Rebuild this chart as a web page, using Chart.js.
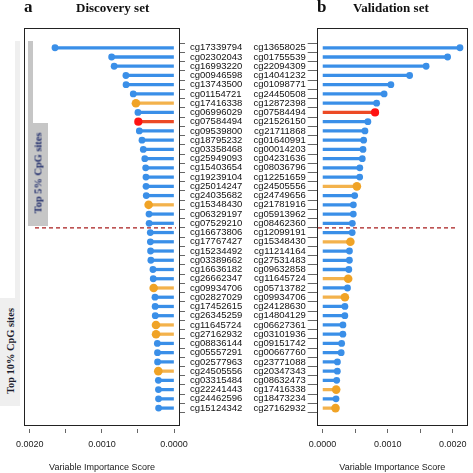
<!DOCTYPE html>
<html>
<head>
<meta charset="utf-8">
<script src="https://cdn.jsdelivr.net/npm/chart.js@4.4.1/dist/chart.umd.min.js"></script>
<style>
  body { margin:0; width:473px; height:473px; background:#fff; position:relative; overflow:hidden; }
  canvas { position:absolute; top:0; }
  .lbl { position:absolute; font-family:"Liberation Serif", serif; font-weight:bold; color:#111; white-space:nowrap; }
  .band { position:absolute; }
  .vtxt { position:absolute; font-family:"Liberation Serif", serif; font-weight:bold; font-size:10.4px; white-space:nowrap;
          transform:translate(-50%,-50%) rotate(-90deg); }
</style>
</head>
<body>
<canvas id="disc" width="252" height="473" style="left:0"></canvas>
<canvas id="vali" width="221" height="473" style="left:252px"></canvas>

<div class="lbl" style="left:24px;top:-2px;font-size:17px;line-height:17px">a</div>
<div class="lbl" style="left:76px;top:1px;font-size:13px;line-height:13px">Discovery set</div>
<div class="lbl" style="left:317px;top:-2px;font-size:17px;line-height:17px">b</div>
<div class="lbl" style="left:353px;top:1px;font-size:13px;line-height:13px">Validation set</div>

<div class="band" style="left:15px;top:41px;width:5px;height:257px;background:#efefef"></div>
<div class="band" style="left:0;top:298px;width:20px;height:108px;background:#efefef"></div>
<div class="vtxt" style="left:10px;top:351px;color:#1c1c2c">Top 10% CpG sites</div>

<div class="band" style="left:28px;top:41px;width:5px;height:82px;background:#c6c6c6"></div>
<div class="band" style="left:28px;top:123px;width:20px;height:103px;background:#c6c6c6"></div>
<div class="vtxt" style="left:38px;top:173px;color:#1f2c6b">Top 5% CpG sites</div>

<script>
// discovery set (panel a)
const discLabels = ['cg17339794','cg02302043','cg16993220','cg00946598','cg13743500','cg01154721','cg17416338','cg06996029',
  'cg07584494','cg09539800','cg18795232','cg03358468','cg25949093','cg15403654','cg19239104','cg25014247','cg24035682',
  'cg15348430','cg06329197','cg07529210','cg16673806','cg17767427','cg15234492','cg03389662','cg16636182','cg26662347',
  'cg09934706','cg02827029','cg17452615','cg26345259','cg11645724','cg27162932','cg08836144','cg05557291','cg02577963',
  'cg24505556','cg03315484','cg22241443','cg24462596','cg15124342'];
const discValues = [0.00165,0.000865,0.00083,0.000667,0.000665,0.000565,0.000528,0.0005,
  0.000495,0.000481,0.000444,0.000426,0.000405,0.000393,0.000389,0.000388,0.000385,
  0.000352,0.000347,0.000345,0.000329,0.000328,0.000325,0.000321,0.000292,0.000288,
  0.000282,0.000264,0.000262,0.00026,0.00025,0.000249,0.000231,0.000229,0.000228,
  0.000218,0.000217,0.000216,0.000215,0.000214];

// validation set (panel b)
const valiLabels = ['cg13658025','cg01755539','cg22094309','cg14041232','cg01098771','cg24450508','cg12872398','cg07584494',
  'cg21526150','cg21711868','cg01640991','cg00014203','cg04231636','cg08036796','cg12251659','cg24505556','cg24749656',
  'cg21781916','cg05913962','cg08462360','cg12099191','cg15348430','cg11214164','cg27531483','cg09632858','cg11645724',
  'cg05713782','cg09934706','cg24128630','cg14804129','cg06627361','cg03101936','cg09151742','cg00667760','cg23771088',
  'cg20347343','cg08632473','cg17416338','cg18473234','cg27162932'];
const valiValues = [0.00211,0.00192,0.00159,0.001337,0.001049,0.000945,0.00083,0.000806,
  0.000696,0.000651,0.000631,0.000621,0.00061,0.000572,0.00057,0.000527,0.000493,
  0.000473,0.000472,0.000457,0.000455,0.000427,0.000413,0.000412,0.000403,0.000393,
  0.000383,0.000343,0.000343,0.000342,0.000313,0.000312,0.000293,0.000286,0.000228,
  0.000227,0.000217,0.000209,0.000207,0.000199];

const topBoth = ['cg07584494'];   // in the top 5% of both sets
const top5Count = 20;
const xTickValues = [0, 0.0005, 0.001, 0.0015, 0.002];
const xTickText = ['0.0000', '', '0.0010', '', '0.0020'];

const dotColor = {blue:'#3a8fe8', orange:'#f0a326', red:'#ff1212'};
const stemColor = {blue:'#3a8fe8', orange:'#f3b24c', red:'#ec4a25'};
const dotSize = {blue:3.4, orange:4.3, red:4.1};

function kind(lab, other) {
  if (topBoth.includes(lab)) return 'red';
  if (other.includes(lab)) return 'orange';
  return 'blue';
}

const boxPlugin = {
  id: 'box',
  afterDraw(chart) {
    const a = chart.chartArea, c = chart.ctx;
    c.save();
    c.strokeStyle = '#222';
    c.lineWidth = 1;
    c.strokeRect(Math.round(a.left) + 0.5, Math.round(a.top) + 0.5, Math.round(a.width) - 1, Math.round(a.height) - 1);
    c.restore();
  }
};

const cutLinePlugin = {
  id: 'cutLine',
  afterDatasetsDraw(chart, args, opts) {
    const a = chart.chartArea, c = chart.ctx;
    const y = chart.scales.y.getPixelForValue(opts.at);
    c.save();
    c.strokeStyle = '#a81c1c';
    c.lineWidth = 1.2;
    c.setLineDash([4, 3]);
    c.beginPath();
    c.moveTo(a.left + opts.inL, y);
    c.lineTo(a.right - opts.inR, y);
    c.stroke();
    c.restore();
  }
};

const sans = '"Liberation Sans", Arial, sans-serif';

function buildPanel(id, labels, values, other, cfg) {
  const kinds = labels.map(l => kind(l, other));
  const pts = values.map((v, i) => ({x: v, y: i}));
  return new Chart(document.getElementById(id), {
    type: 'bar',
    data: {
      datasets: [{
        type: 'scatter',
        data: pts,
        pointRadius: kinds.map(k => dotSize[k]),
        pointBackgroundColor: kinds.map(k => dotColor[k]),
        pointBorderWidth: 0,
        order: 0
      }, {
        type: 'bar',
        data: pts,
        backgroundColor: kinds.map(k => stemColor[k]),
        barThickness: 2.6,
        order: 1
      }]
    },
    options: {
      indexAxis: 'y',
      responsive: false,
      animation: false,
      events: [],
      layout: {padding: cfg.padding},
      plugins: {
        legend: {display: false},
        tooltip: {enabled: false},
        cutLine: {at: top5Count - 0.5, inL: cfg.inL, inR: cfg.inR}
      },
      scales: {
        x: {
          type: 'linear', reverse: cfg.reverse, min: cfg.xMin, max: cfg.xMax,
          afterBuildTicks: s => { s.ticks = xTickValues.map(v => ({value: v})); },
          afterFit: s => { s.height = 47; },
          ticks: {
            callback: (v, i) => xTickText[i],
            autoSkip: false, maxRotation: 0, padding: 6,
            font: {family: sans, size: 9}, color: '#222'
          },
          grid: {drawOnChartArea: false, tickLength: 7, tickColor: '#666', tickBorderDash: [0, 3, 4, 20]},
          border: {display: false},
          title: {display: true, text: 'Variable Importance Score', font: {family: sans, size: 9},
                  color: '#222', padding: {top: 0, bottom: 0}}
        },
        y: {
          type: 'linear', position: cfg.yPos, reverse: true, min: -1.6, max: 40.4,
          afterBuildTicks: s => { s.ticks = labels.map((_, i) => ({value: i})); },
          afterFit: s => { s.width = cfg.yWidth; },
          ticks: {
            callback: (v, i) => labels[i],
            autoSkip: false, padding: cfg.yPad,
            font: {family: sans, size: 9.5}, color: '#111'
          },
          grid: {drawOnChartArea: false, tickLength: cfg.yTick, tickColor: '#666'},
          border: {display: false}
        }
      }
    },
    plugins: [boxPlugin, cutLinePlugin]
  });
}

buildPanel('disc', discLabels, discValues, valiLabels, {
  padding: {left: 24, top: 28, right: 0, bottom: 0},
  reverse: true, xMin: -0.000083, xMax: 0.00208,
  yPos: 'right', yWidth: 72, yTick: 5, yPad: 5, inL: 11, inR: 4
});
buildPanel('vali', valiLabels, valiValues, discLabels, {
  padding: {left: 0, top: 28, right: 1.3, bottom: 0},
  reverse: false, xMin: -0.00009, xMax: 0.00223,
  yPos: 'left', yWidth: 64.7, yTick: 9, yPad: 2, inL: 1.3, inR: 12
});
</script>
</body>
</html>
